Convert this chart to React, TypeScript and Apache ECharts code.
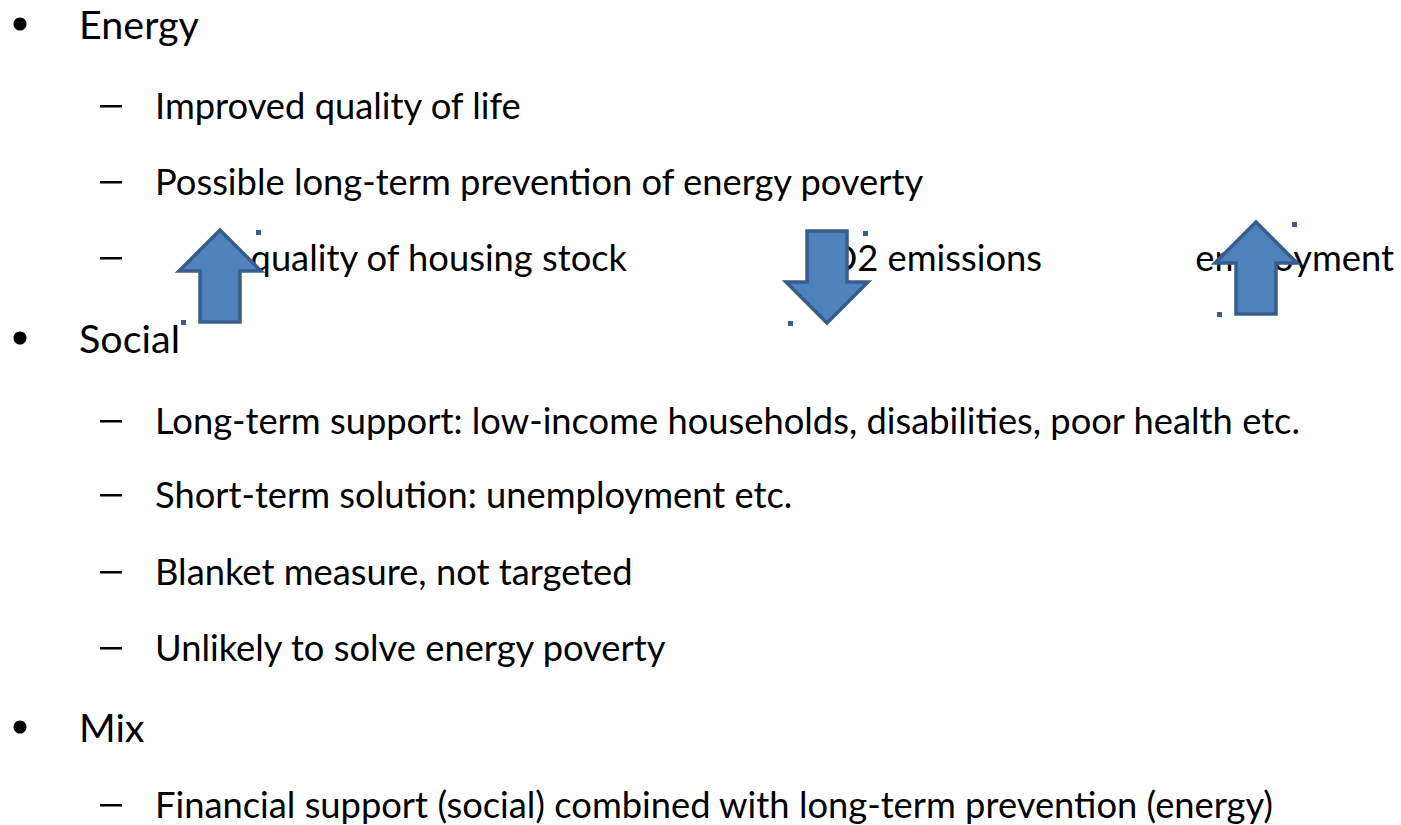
import React, { useEffect, useRef } from "react";
import * as echarts from "echarts";

// Slide content
const topics = ["Energy", "Social", "Mix"];
const energyPoints = [
  "Improved quality of life",
  "Possible long-term prevention of energy poverty",
];
const energyEffects = ["quality of housing stock", "CO2 emissions", "employment"];
const effectDirections = ["up", "down", "up"];
const socialPoints = [
  "Long-term support: low-income households, disabilities, poor health etc.",
  "Short-term solution: unemployment etc.",
  "Blanket measure, not targeted",
  "Unlikely to solve energy poverty",
];
const mixPoints = [
  "Financial support (social) combined with long-term prevention (energy)",
];

// Layout (positions only)
const L1_SIZE = 39.5;
const L2_SIZE = 36.3;
const L1_FONT = `${L1_SIZE}px Lato`;
const L2_FONT = `${L2_SIZE}px Lato`;
const L1_X = 79;
const L2_X = 155;
const DASH_X = 100;
const BULLET_CX = 20;
// baselines
const topicBaselines = [37, 351, 740];
const energyBaselines = [118, 194, 270];
const socialBaselines = [433, 507, 584, 660];
const mixBaselines = [817];
const effectRightX = [627, 1042, 1394];
const arrowCenters = [
  { cx: 220, top: 230 },
  { cx: 827, top: 231 },
  { cx: 1256, top: 222 },
];
const handleOffsets = [
  [36, 0],
  [-39, 90],
];

const FILL = "#4f81bd";
const STROKE = "#385d8a";

function textEl(text: string, x: number, baseline: number, font: string, size: number, align = "left") {
  return {
    type: "text",
    x,
    y: baseline - size * 0.35,
    silent: true,
    style: {
      text,
      font,
      fill: "#000000",
      align,
      verticalAlign: "middle",
    },
  };
}

function arrowPoints(cx: number, top: number, dir: string) {
  const hw = 41, sw = 20, hh = 41, h = 92;
  if (dir === "up") {
    return [
      [cx, top],
      [cx + hw, top + hh],
      [cx + sw, top + hh],
      [cx + sw, top + h],
      [cx - sw, top + h],
      [cx - sw, top + hh],
      [cx - hw, top + hh],
    ];
  }
  return [
    [cx - sw, top],
    [cx + sw, top],
    [cx + sw, top + h - hh],
    [cx + hw, top + h - hh],
    [cx, top + h],
    [cx - hw, top + h - hh],
    [cx - sw, top + h - hh],
  ];
}

export default function App() {
  const ref = useRef<HTMLDivElement>(null);
  useEffect(() => {
    if (!ref.current) return;
    const chart = echarts.init(ref.current, null, { renderer: "svg" });
    const els: any[] = [];

    const addBullet = (baseline: number) => {
      els.push({
        type: "circle",
        silent: true,
        shape: { cx: BULLET_CX, cy: baseline - 13, r: 6.5 },
        style: { fill: "#000000" },
      });
    };
    const addDash = (baseline: number) => {
      els.push({
        type: "rect",
        silent: true,
        shape: { x: DASH_X, y: baseline - 13, width: 22, height: 2.5 },
        style: { fill: "#000000" },
      });
    };
    const addL2 = (text: string, baseline: number) => {
      addDash(baseline);
      els.push(textEl(text, L2_X, baseline, L2_FONT, L2_SIZE));
    };

    topics.forEach((t, i) => {
      addBullet(topicBaselines[i]);
      els.push(textEl(t, L1_X, topicBaselines[i], L1_FONT, L1_SIZE));
    });
    energyPoints.forEach((t, i) => addL2(t, energyBaselines[i]));
    // third energy line: effects with arrows
    const effBase = energyBaselines[2];
    addDash(effBase);
    energyEffects.forEach((t, i) => {
      els.push(textEl(t, effectRightX[i], effBase, L2_FONT, L2_SIZE, "right"));
    });
    socialPoints.forEach((t, i) => addL2(t, socialBaselines[i]));
    mixPoints.forEach((t, i) => addL2(t, mixBaselines[i]));

    arrowCenters.forEach((a, i) => {
      els.push({
        type: "polygon",
        silent: true,
        shape: { points: arrowPoints(a.cx, a.top, effectDirections[i]) },
        style: { fill: FILL, stroke: STROKE, lineWidth: 3.5, lineJoin: "miter" },
      });
      handleOffsets.forEach(([dx, dy]) => {
        els.push({
          type: "rect",
          silent: true,
          shape: { x: a.cx + dx, y: a.top + dy, width: 5, height: 5 },
          style: { fill: STROKE },
        });
      });
    });

    chart.setOption({
      animation: false,
      backgroundColor: "#ffffff",
      graphic: { elements: els },
    });
    return () => chart.dispose();
  }, []);
  return (
    <div
      ref={ref}
      style={{ position: "fixed", left: 0, top: 0, width: 1401, height: 825 }}
    />
  );
}
